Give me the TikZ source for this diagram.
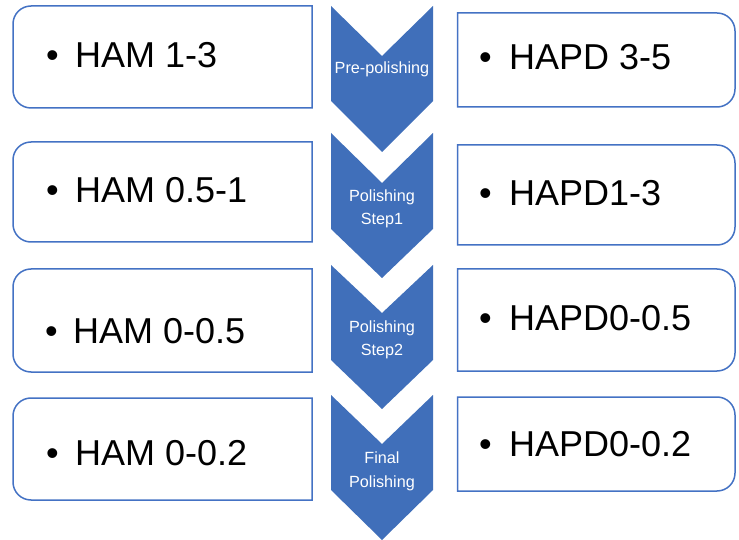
\documentclass[tikz,border=0pt]{standalone}
\usepackage{fontspec}
\setmainfont{Liberation Sans}
\definecolor{boxblue}{RGB}{68,114,196}
\definecolor{chevblue}{RGB}{64,111,186}
\newcommand{\hamBox}[2]{\draw[boxline] (312,#1) -- (31,#1) arc[start angle=90,end angle=180,radius=18] -- (13,{#2+18}) arc[start angle=180,end angle=270,radius=18] -- (312,#2) -- cycle;}
\newcommand{\hapdBox}[2]{\draw[boxline] (457.5,#1) -- (717,#1) arc[start angle=90,end angle=0,radius=18] -- (735,{#2+18}) arc[start angle=0,end angle=-90,radius=18] -- (457.5,#2) -- cycle;}
\newcommand{\chevShape}[4]{\fill[chevblue] (331,#1) -- (382,#2) -- (433,#1) -- (433,#3) -- (382,#4) -- (331,#3) -- cycle;}
\begin{document}
\begin{tikzpicture}[x=1pt,y=1pt,
  boxline/.style={draw=boxblue,line width=1.5pt,fill=white},
  bigtext/.style={anchor=base west,inner sep=0pt,font=\fontsize{36}{40}\selectfont},
  chevtext/.style={anchor=base,inner sep=0pt,text=white,font=\fontsize{16.2}{18}\selectfont}]
\useasboundingbox (0,0) rectangle (739,539);
% left boxes
\hamBox{533}{431}
\hamBox{397}{297}
\hamBox{270}{167}
\hamBox{141}{39}
% right boxes
\hapdBox{526}{432}
\hapdBox{394}{294}
\hapdBox{270}{168}
\hapdBox{142}{48}
% chevrons
\chevShape{533}{483}{438}{387}
\chevShape{406}{356}{310}{261}
\chevShape{274}{226}{179}{130}
\chevShape{144}{95}{49}{-1}
% left texts
\node[bigtext] (h1) at (46,471) {\makebox[29pt][l]{•}HAM 1-3};
\node[bigtext] (h2) at (46,336) {\makebox[29pt][l]{•}HAM 0.5-1};
\node[bigtext] (h3) at (45,196) {\makebox[28pt][l]{•}HAM 0-0.5};
\node[bigtext] (h4) at (46,74) {\makebox[29pt][l]{•}HAM 0-0.2};
% right texts
\node[bigtext] (p1) at (479,469) {\makebox[30pt][l]{•}HAPD 3-5};
\node[bigtext] (p2) at (479,333) {\makebox[30pt][l]{•}HAPD1-3};
\node[bigtext] (p3) at (479,209) {\makebox[30pt][l]{•}HAPD0-0.5};
\node[bigtext] (p4) at (479,83) {\makebox[30pt][l]{•}HAPD0-0.2};
% chevron texts
\node[chevtext] (c1) at (382,465) {Pre-polishing};
\node[chevtext] (c2a) at (382,337) {Polishing};
\node[chevtext] (c2b) at (382,314) {Step1};
\node[chevtext] (c3a) at (382,207) {Polishing};
\node[chevtext] (c3b) at (382,184) {Step2};
\node[chevtext] (c4a) at (382,76) {Final};
\node[chevtext] (c4b) at (382,52) {Polishing};
\end{tikzpicture}
\end{document}
